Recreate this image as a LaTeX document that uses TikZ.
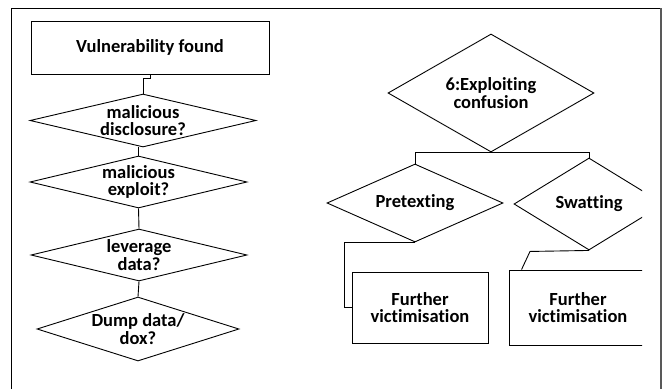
\documentclass[tikz,border=0pt]{standalone}
\usepackage{fontspec}
\setmainfont{Carlito}[Ligatures={NoCommon,NoContextual}]
\usetikzlibrary{shapes.geometric}

\tikzset{
  box/.style={draw, rectangle, line width=0.9pt, inner sep=0pt},
  dia/.style={draw, diamond, line width=0.9pt, inner sep=0pt},
  txt/.style={align=center, font=\fontsize{18.5}{17.5}\selectfont\bfseries, inner sep=0pt},
  link/.style={draw, line width=0.9pt},
  frameline/.style={line width=1pt}
}

\begin{document}
\begin{tikzpicture}[x=1pt, y=-1pt]
  \useasboundingbox (0,0) rectangle (665,389);

  % outer frame, open at the bottom
  \coordinate (fbl) at (11,389);
  \coordinate (ftl) at (11,8);
  \coordinate (ftr) at (661,8);
  \coordinate (fbr) at (661,389);
  \draw[frameline, black] (fbl) -- (ftl) -- (ftr);
  \draw[line width=1.6pt, black!65] (ftr) -- (fbr);

  % left column: disclosure chain
  \node[box, minimum width=238pt, minimum height=53pt, txt] (v) at (150,47.5) {Vulnerability found};
  \node[dia, minimum width=226pt, minimum height=53pt,
        label={[txt]center:malicious\\disclosure?}] (d1) at (143,120.5) {};
  \node[dia, minimum width=217pt, minimum height=52pt,
        label={[txt]center:malicious\\exploit?}] (d2) at (138.5,182) {};
  \node[dia, minimum width=216pt, minimum height=52pt,
        label={[txt]center:leverage\\data?}] (d3) at (139,255) {};
  \node[dia, minimum width=202pt, minimum height=64pt,
        label={[txt]center:Dump data/\\dox?}] (d4) at (138,329) {};

  \draw[link] (v.south) -- ++(0,4) -| (d1.north);
  \draw[link] (d2.north) -- (d1.south -| d2.north);
  \draw[link] (d2.south) -- (d3.north);
  \draw[link] (d3.south) -- (d4.north);

  % right column: exploiting confusion
  \node[dia, minimum width=206pt, minimum height=118pt,
        label={[txt]center:6:Exploiting\\confusion}] (e) at (491,93) {};
  \node[dia, minimum width=176pt, minimum height=78pt,
        label={[txt]center:Pretexting}] (p) at (415,203) {};
  \node[box, minimum width=136pt, minimum height=71pt, txt] (f1) at (420,307.5) {Further\\victimisation};

  \draw[link] (p.north) |- (e.south);
  \draw[link] (p.south) -- ++(-71,0) |- (f1.west);

  \begin{scope}
    \clip (0,0) rectangle (642,389);
    \node[dia, minimum width=150pt, minimum height=92pt,
          label={[txt]center:Swatting}] (s) at (589,204) {};
    \node[box, minimum width=138pt, minimum height=75pt, txt] (f2) at (578,307.5) {Further\\victimisation};
    \draw[link] (e.south) -| (s.north);
    \draw[link] (s.south) -- ++(-59,1) -- ([xshift=13pt]f2.north west);
  \end{scope}
\end{tikzpicture}
\end{document}
